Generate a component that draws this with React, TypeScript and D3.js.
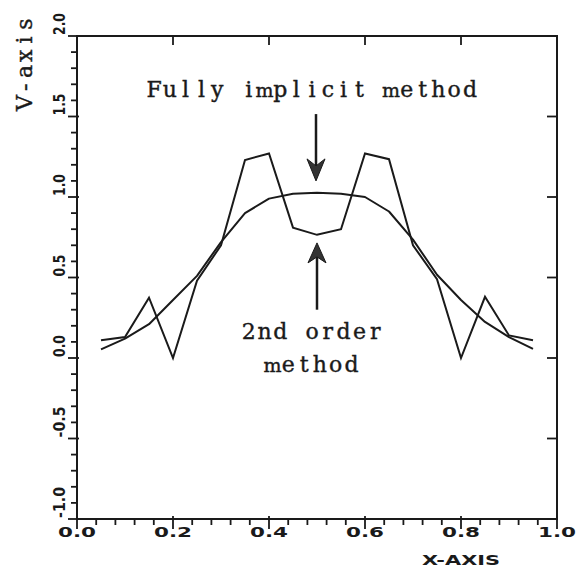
import React from 'react';
import * as d3 from 'd3';

// grid points (x) and the two solution curves
const xGrid = [0.05, 0.10, 0.15, 0.20, 0.25, 0.30, 0.35, 0.40, 0.45, 0.50, 0.55, 0.60, 0.65, 0.70, 0.75, 0.80, 0.85, 0.90, 0.95];
const secondOrder = [0.11, 0.13, 0.375, 0.0, 0.48, 0.70, 1.23, 1.27, 0.81, 0.765, 0.80, 1.27, 1.235, 0.70, 0.49, 0.0, 0.38, 0.14, 0.11];
const fullyImplicit = [0.054, 0.12, 0.21, 0.36, 0.51, 0.72, 0.90, 0.99, 1.02, 1.027, 1.02, 1.0, 0.91, 0.735, 0.517, 0.36, 0.224, 0.13, 0.057];

const xMajorTicks = [0, 0.2, 0.4, 0.6, 0.8, 1.0];
const xTickLabels = ['0.0', '0.2', '0.4', '0.6', '0.8', '1.0'];
const yMajorTicks = [-1, -0.5, 0, 0.5, 1, 1.5, 2];
const yTickLabels = ['-1.0', '-0.5', '0.0', '0.5', '1.0', '1.5', '2.0'];

const xTitle = 'X-AXIS';
const yTitle = 'V-axis';
const annotTop = 'Fully implicit method';
const annotBottom = ['2nd order', 'method'];

const W = 576;
const H = 567;
const ink = '#1a1a1a';
const typeFont = '"DejaVu Serif", "Liberation Serif", serif';
const plotFont = '"DejaVu Sans", sans-serif';
const PITCH = 15.8;

// typewriter-style text: each glyph centred in a fixed-pitch cell
function TypeText({ text, x, y, anchor = 'middle', rotate = false }: { text: string; x: number; y: number; anchor?: string; rotate?: boolean }) {
  const total = text.length * PITCH;
  const start = anchor === 'middle' ? -total / 2 : 0;
  const tf = rotate ? `translate(${x},${y}) rotate(-90)` : `translate(${x},${y})`;
  return (
    <g transform={tf}>
      {text.split('').map((ch, i) =>
        ch === ' ' ? null : (
          <text
            key={i}
            x={start + (i + 0.5) * PITCH}
            y={0}
            textAnchor="middle"
            fontFamily={typeFont}
            fontSize={ch === 'm' ? 19 : 22}
            fill={ink}
            stroke={ink}
            strokeWidth={0.4}
          >
            {ch}
          </text>
        )
      )}
    </g>
  );
}

export default function App() {
  const x = d3.scaleLinear().domain([0, 1]).range([77, 557]);
  const y = d3.scaleLinear().domain([-1, 2]).range([519, 36]);

  const line = d3
    .line<number>()
    .x((_, i) => x(xGrid[i]))
    .y((d) => y(d));

  const yMinor = d3.range(-10, 21).map((i) => i / 10);
  const xMinor = d3.range(0, 26).map((i) => i * 0.04);

  const cx = x(0.5) - 1;

  // arrow geometry in data units
  const downTop = y(1.515);
  const downTip = y(1.10);
  const upTip = y(0.715);
  const upBottom = y(0.30);

  return (
    <svg
      width={W}
      height={H}
      style={{ position: 'absolute', left: 0, top: 0, background: '#fff' }}
      xmlns="http://www.w3.org/2000/svg"
    >
      <rect x={0} y={0} width={W} height={H} fill="#fff" />

      {/* frame */}
      <rect
        x={x(0)}
        y={y(2)}
        width={x(1) - x(0)}
        height={y(-1) - y(2)}
        fill="none"
        stroke={ink}
        strokeWidth={2}
      />

      {/* left axis ticks */}
      {yMinor.map((v, i) => {
        const major = Math.abs(v * 2 - Math.round(v * 2)) < 1e-6;
        return (
          <line
            key={'yl' + i}
            x1={x(0) - (major ? 9 : 6)}
            x2={x(0) + (major ? 2 : 0)}
            y1={y(v)}
            y2={y(v)}
            stroke={ink}
            strokeWidth={1.8}
          />
        );
      })}
      {/* right axis ticks */}
      {yMajorTicks.map((v, i) => (
        <line key={'yr' + i} x1={x(1) - 10} x2={x(1)} y1={y(v)} y2={y(v)} stroke={ink} strokeWidth={1.8} />
      ))}
      {/* bottom ticks */}
      {xMinor.map((v, i) => {
        const major = Math.abs(v * 5 - Math.round(v * 5)) < 1e-6;
        return (
          <line
            key={'xb' + i}
            x1={x(v)}
            x2={x(v)}
            y1={y(-1) - (major ? 3 : 0)}
            y2={y(-1) + (major ? 10 : 6)}
            stroke={ink}
            strokeWidth={1.8}
          />
        );
      })}
      {/* top ticks */}
      {xMajorTicks.slice(1, -1).map((v, i) => (
        <line key={'xt' + i} x1={x(v)} x2={x(v)} y1={y(2)} y2={y(2) + 9} stroke={ink} strokeWidth={1.8} />
      ))}

      {/* x tick labels */}
      {xMajorTicks.map((v, i) => (
        <text
          key={'xtl' + i}
          x={x(v) - 19}
          y={537}
          fontFamily={plotFont}
          fontWeight="bold"
          fontSize={14}
          textLength={38}
          lengthAdjust="spacingAndGlyphs"
          fill={ink}
        >
          {xTickLabels[i]}
        </text>
      ))}

      {/* y tick labels (rotated) */}
      {yMajorTicks.map((v, i) => {
        const lbl = yTickLabels[i];
        const len = lbl.length === 4 ? 31 : 22;
        return (
          <text
            key={'ytl' + i}
            transform={`translate(65, ${y(v) - 1}) rotate(-90)`}
            fontFamily={plotFont}
            fontWeight="bold"
            fontSize={16}
            textLength={len}
            lengthAdjust="spacingAndGlyphs"
            fill={ink}
          >
            {lbl}
          </text>
        );
      })}

      {/* axis titles */}
      <text
        x={422}
        y={565}
        fontFamily={plotFont}
        fontWeight="bold"
        fontSize={14}
        textLength={78}
        lengthAdjust="spacingAndGlyphs"
        fill={ink}
      >
        {xTitle}
      </text>
      <TypeText text={yTitle} x={32} y={111} anchor="start" rotate />

      {/* curves */}
      <path d={line(secondOrder) || ''} fill="none" stroke={ink} strokeWidth={2} strokeLinejoin="miter" />
      <path d={line(fullyImplicit) || ''} fill="none" stroke={ink} strokeWidth={2} strokeLinejoin="round" />

      {/* annotations */}
      <TypeText text={annotTop} x={cx - 4} y={y(1.62)} />
      <line x1={cx} x2={cx} y1={downTop} y2={downTip - 10} stroke={ink} strokeWidth={2.5} />
      <path
        d={`M${cx},${downTip} L${cx - 9},${downTip - 22} L${cx},${downTip - 15} L${cx + 9},${downTip - 22} Z`}
        fill="#333"
        stroke={ink}
        strokeWidth={1}
      />

      <line x1={cx + 1} x2={cx + 1} y1={upBottom} y2={upTip + 10} stroke={ink} strokeWidth={2.5} />
      <path
        d={`M${cx + 1},${upTip} L${cx - 8},${upTip + 20} L${cx + 1},${upTip + 14} L${cx + 10},${upTip + 20} Z`}
        fill="#333"
        stroke={ink}
        strokeWidth={1}
      />
      {annotBottom.map((t, i) => (
        <TypeText key={'ab' + i} text={t} x={cx - 4} y={y(0.118) + i * 33} />
      ))}
    </svg>
  );
}
